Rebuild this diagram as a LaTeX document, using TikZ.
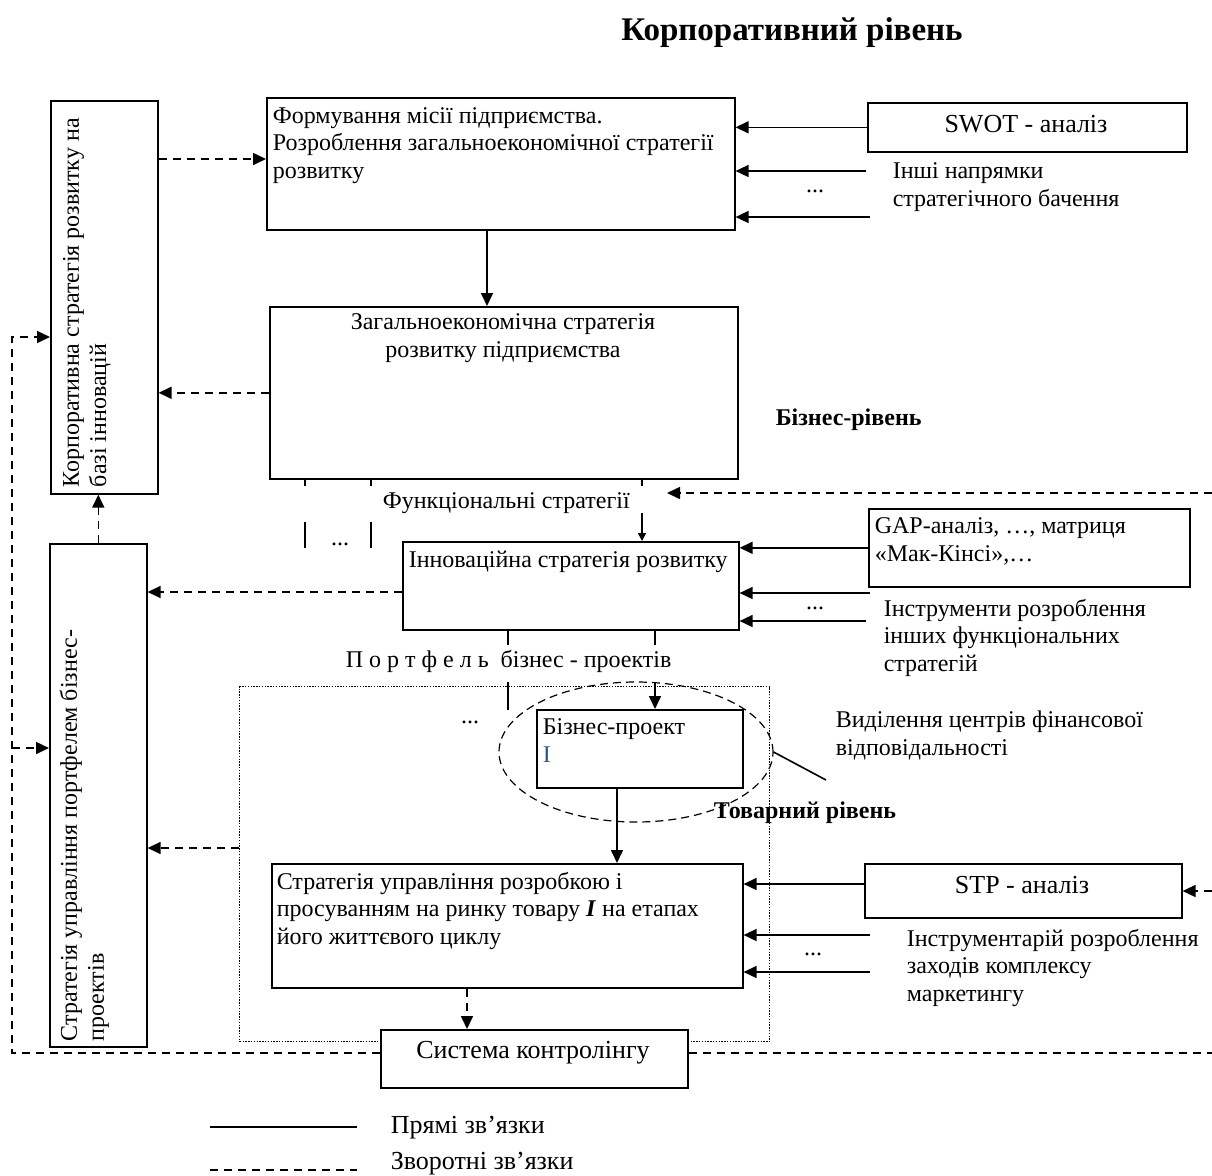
\documentclass[tikz,border=0pt]{standalone}
\usepackage{fontspec}
\setmainfont{Liberation Serif}
\usetikzlibrary{arrows.meta,shapes.geometric}
\definecolor{projblue}{RGB}{47,84,150}
\newcommand\bodyfont{\fontsize{12}{13.6}\selectfont}
\newcommand\bigfont{\fontsize{13}{15}\selectfont}
\begin{document}
\begin{tikzpicture}
[x=0.5pt,y=-0.5pt,line width=0.8pt,font=\bodyfont]
\tikzstyle{box}=[draw,rectangle,inner sep=0pt,anchor=north west]
\tikzstyle{txt}=[inner sep=0pt,align=left,anchor=base west]
\tikzstyle{direct}=[-{Triangle[length=6.5pt,width=6pt]}]
\tikzstyle{feedback}=[dash pattern=on 4pt off 3pt,-{Triangle[length=6.5pt,width=6pt]}]
\useasboundingbox (0,0) rectangle (1212,1175);
\node[anchor=base,font=\fontsize{16.5}{18}\selectfont\bfseries] (title) at (792,40) {Корпоративний рівень};
% boxes (multi-line texts sit on the baseline of their last line)
\node[box,minimum width=53.5pt,minimum height=196.5pt] (corp) at (50,100) {};
\node[txt,rotate=90] at (106,488) {Корпоративна стратегія розвитку на\\базі інновацій};
\node[box,minimum width=234pt,minimum height=66pt] (mis) at (266,97) {};
\node[txt] at (272,178) {Формування місії підприємства.\\Розроблення загальноекономічної стратегії\\розвитку};
\node[box,minimum width=234pt,minimum height=86pt] (gen) at (269,306) {};
\node[txt,align=center,anchor=base] at (503,357) {Загальноекономічна стратегія\\розвитку підприємства};
\node[box,minimum width=159.5pt,minimum height=24.5pt] (swot) at (867,102) {};
\node[anchor=base,inner sep=0pt,font=\bigfont] at (1026,132) {SWOT - аналіз};
\node[txt] at (892,206) {Інші напрямки\\стратегічного бачення};
\node[anchor=base] at (815,192) {...};
\node[txt,font=\bodyfont\bfseries] at (775,425) {Бізнес-рівень};
\node[txt] (func) at (382,508) {Функціональні стратегії};
\node[box,minimum width=168pt,minimum height=44pt] (innov) at (402,541) {};
\node[txt] at (408,567) {Інноваційна стратегія розвитку};
\node[box,minimum width=160.5pt,minimum height=39pt] (gap) at (868,508) {};
\node[txt] at (874,561) {GAP-аналіз, …, матриця\\«Мак-Кінсі»,…};
\node[txt] at (883,671) {Інструменти розроблення\\інших функціональних\\стратегій};
\node[anchor=base] at (815,609) {...};
\node[box,minimum width=48.5pt,minimum height=251.5pt] (port) at (49,543) {};
\node[txt,rotate=90] at (104,1042) {Стратегія управління портфелем бізнес-\\проектів};
\node[txt] at (345,667) {П о р т ф е л ь\ \ бізнес - проектів};
\node[box,line width=0.7pt,dash pattern=on 0.7pt off 0.7pt,minimum width=265pt,minimum height=177.5pt] (frame) at (239,686) {};
\node[anchor=base] at (470,723) {...};
\node[box,minimum width=103pt,minimum height=39pt] (bp) at (536,709) {};
\node[txt] at (542,762) {Бізнес-проект\\\textcolor{projblue}{I}};
\node[draw,ellipse,line width=0.6pt,dash pattern=on 4pt off 2.5pt,minimum width=137pt,minimum height=70pt] (ovl) at (636,752) {};
\node[txt] (vyd) at (835,755) {Виділення центрів фінансової\\відповідальності};
\node[txt,font=\bodyfont\bfseries] at (713,818) {Товарний рівень};
\node[box,minimum width=235.5pt,minimum height=62pt] (prod) at (271,863) {};
\node[txt] at (276,944) {Стратегія управління розробкою і\\просуванням на ринку товару \textbf{\textit{I}} на етапах\\його життєвого циклу};
\node[box,minimum width=158.5pt,minimum height=27pt] (stp) at (864,863) {};
\node[anchor=base,inner sep=0pt,font=\bigfont] at (1022,893) {STP - аналіз};
\node[txt] at (906,1001) {Інструментарій розроблення\\заходів комплексу\\маркетингу};
\node[anchor=base] at (813,955) {...};
\node[box,fill=white,minimum width=153.5pt,minimum height=29pt] (ctrl) at (380,1029) {};
\node[anchor=base,inner sep=0pt,font=\bigfont] at (533,1058) {Система контролінгу};
% free ends
\coordinate (in1) at (866,171);
\coordinate (in2) at (870,217);
\coordinate (ins1) at (870,593);
\coordinate (ins2) at (866,621);
\coordinate (it1) at (870,935);
\coordinate (it2) at (870,972);
\coordinate (redge1) at (1212,493);
\coordinate (redge2) at (1212,891);
\coordinate (redge3) at (1212,1053);
\coordinate (lc1) at (12,1053);
\coordinate (lc2) at (12,337);
\coordinate (lc3) at (12,748);
\coordinate (fend) at (667,493);
\coordinate (vydtip) at (826,780);
% corporate level
\draw[feedback] (corp.east |- 0,159) -- (mis.west |- 0,159);
\draw[direct] (487,0 |- mis.south) -- (487,0 |- gen.north);
\draw[direct] (swot.west) -- (mis.east |- swot.west);
\draw[direct] (in1) -- (mis.east |- in1);
\draw[direct] (in2) -- (mis.east |- in2);
\draw[feedback] (gen.west) -- (corp.east |- gen.west);
% business level
\foreach \x in {305,371} {
  \draw (\x,0 |- gen.south) -- ++(0,6);
  \draw (\x,522) -- (\x,548);
}
\node[anchor=base] at (340,545) {...};
\draw (642,0 |- gen.south) -- ++(0,6);
\draw[-{Triangle[length=4pt,width=4pt]}] (642,513) -- (642,0 |- innov.north);
\draw[feedback] (redge1) -- (fend);
\draw[direct] (gap.west) -- (innov.east |- gap.west);
\draw[direct] (ins1) -- (innov.east |- ins1);
\draw[direct] (ins2) -- (innov.east |- ins2);
\draw[feedback] (innov.west |- 0,592) -- (port.east |- 0,592);
\draw[feedback] (port.north) -- (port.north |- corp.south);
% product level
\draw (508,0 |- innov.south) -- ++(0,14);
\draw (508,682) -- (508,710);
\draw (655,0 |- innov.south) -- ++(0,14);
\draw[direct] (655,682) -- (655,0 |- bp.north);
\draw[direct] (617,0 |- bp.south) -- (617,0 |- prod.north);
\draw (ovl.east) -- (vydtip);
\draw[feedback] (frame.west |- 0,848) -- (port.east |- 0,848);
\draw[feedback] (467,0 |- prod.south) -- (467,0 |- ctrl.north);
\draw[direct] (stp.west |- 0,884) -- (prod.east |- 0,884);
\draw[direct] (it1) -- (prod.east |- it1);
\draw[direct] (it2) -- (prod.east |- it2);
\draw[feedback] (redge2) -- (stp.east |- redge2);
% control loop
\draw[feedback] (ctrl.west |- lc1) -- (lc1) -- (lc2) -- (corp.west |- lc2);
\draw[feedback] (lc3) -- (port.west |- lc3);
\draw[dash pattern=on 4pt off 3pt] (ctrl.east |- redge3) -- (redge3);
% legend
\draw (210,1127) -- (357,1127);
\node[txt,font=\bigfont] at (390,1133) {Прямі зв’язки};
\draw[dash pattern=on 4pt off 3pt] (210,1170) -- (357,1170);
\node[txt,font=\bigfont] at (390,1169) {Зворотні зв’язки};
\end{tikzpicture}
\end{document}
